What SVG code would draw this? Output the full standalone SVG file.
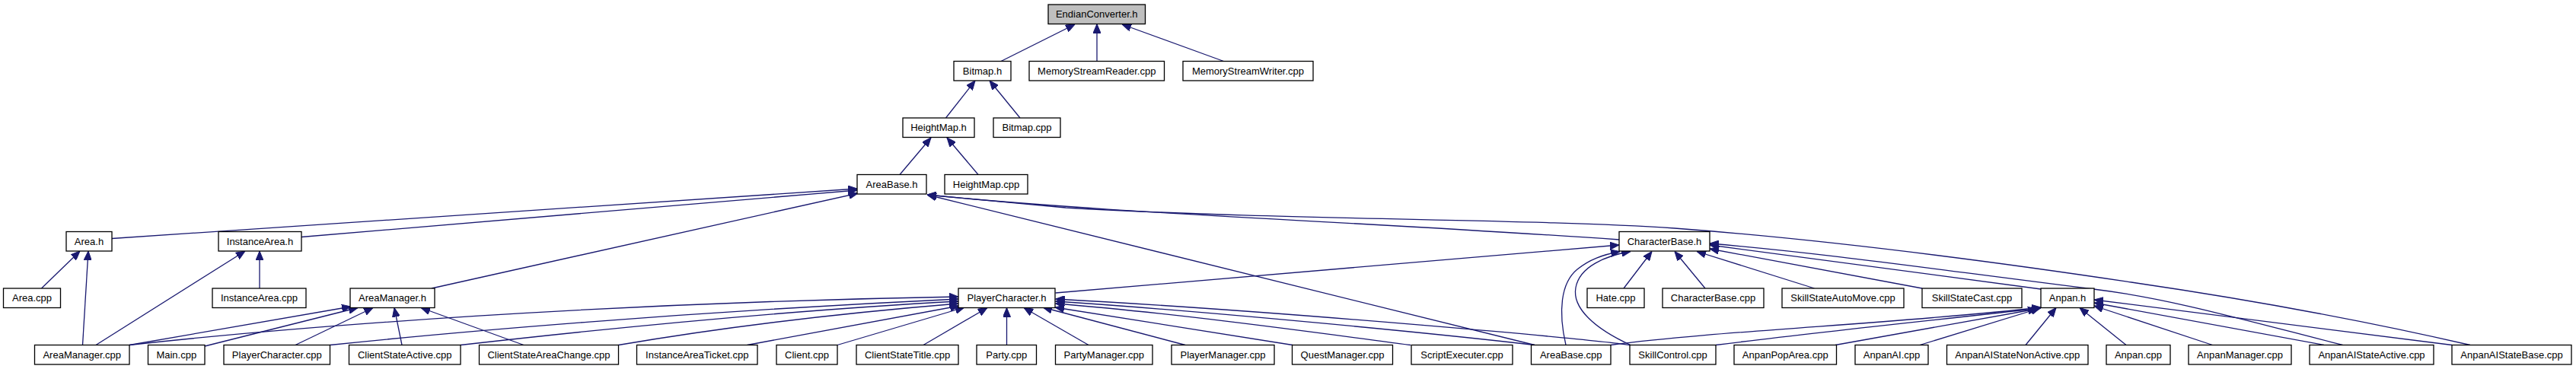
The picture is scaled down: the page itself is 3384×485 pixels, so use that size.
<svg xmlns="http://www.w3.org/2000/svg" width="3384" height="485" viewBox="0 0 3384 485">
<style>
.n rect{fill:#fff;stroke:#000;stroke-width:1.3}
.n.root rect{fill:#bfbfbf}
.n text{font-family:"Liberation Sans",Arial,Helvetica,sans-serif;font-size:13px;text-anchor:middle;fill:#000}
#edges path{fill:none;stroke:#191970;stroke-width:1.3;marker-end:url(#ah)}
</style>
<defs>
<marker id="ah" viewBox="0 0 12 10" refX="12" refY="5" markerWidth="12" markerHeight="10" markerUnits="userSpaceOnUse" orient="auto">
<path d="M0,0 L12,5 L0,10 z" fill="#191970" stroke="#191970" stroke-width="1"/>
</marker>
</defs>
<rect width="3384" height="485" fill="#fff"/>
<g id="edges">
<path d="M1315,80.5 L1412,32"/>
<path d="M1441,80.5 L1441,31.5"/>
<path d="M1607.5,80.5 L1474,32"/>
<path d="M1242.5,155 L1281,106"/>
<path d="M1340,155 L1300,106"/>
<path d="M1182,229.5 L1223,181"/>
<path d="M1285,229.5 L1244,181"/>
<path d="M147,313.5 L1126,248"/>
<path d="M396,311.5 L1126,250"/>
<path d="M567,379 L1127,254"/>
<path d="M2127,315 C1800,292 1450,280 1218,256"/>
<path d="M2016,453.5 L1218,256"/>
<path d="M3245,453.5 C3100,420 2950,393 2800,371 C2600,341 2400,315 2200,300 C2000,287 1700,290 1400,273 L1218,256"/>
<path d="M1386.5,385 L2127,322"/>
<path d="M2133,379 L2170,330.5"/>
<path d="M2240,379 L2200,330.5"/>
<path d="M2383.5,379 L2229,330.5"/>
<path d="M2525,379 L2246,327"/>
<path d="M2681,380 L2246,322"/>
<path d="M3077.5,453.5 C2950,421 2850,392 2750,380 C2550,355 2400,333 2246,320"/>
<path d="M2057,453.5 C2047,410 2050,372 2072,354 C2088,341 2105,335 2128,330.5"/>
<path d="M2142,453.5 C2095,432 2065,405 2070,378 C2075,350 2110,336 2142,330.5"/>
<path d="M170,453.5 L461,403"/>
<path d="M269,455 L470,404.5"/>
<path d="M388,453.5 L490,404.5"/>
<path d="M528,453.5 L518,404.5"/>
<path d="M688,453.5 L553,404.5"/>
<path d="M54.5,379 L105,330"/>
<path d="M108.5,453.5 L116,330"/>
<path d="M126,453.5 L322,330"/>
<path d="M341,379 L341,330"/>
<path d="M170,453.5 C400,428 800,398 1259,390"/>
<path d="M433.5,453.5 C600,436 900,410 1259,393"/>
<path d="M605,453.5 C750,437 1000,410 1259,396"/>
<path d="M812.5,453.5 C950,430 1100,412 1259,399"/>
<path d="M981.5,453.5 L1260,402"/>
<path d="M1100,453.5 L1267,404"/>
<path d="M1213,453.5 L1297,404.5"/>
<path d="M1322.5,453.5 L1322.5,404.5"/>
<path d="M1430,453.5 L1345,404.5"/>
<path d="M1557,453.5 L1370,404"/>
<path d="M1698,453.5 L1386,404"/>
<path d="M1853,453.5 C1750,440 1550,412 1386.5,399"/>
<path d="M2016,453.5 C1900,440 1600,410 1386.5,396"/>
<path d="M2141,453.5 C2100,447 1700,410 1386.5,393"/>
<path d="M2116,453.5 C2250,435 2500,425 2681,404"/>
<path d="M2254,453.5 C2400,435 2550,420 2681,405"/>
<path d="M2411,453.5 L2676,406"/>
<path d="M2522,453.5 L2680,405"/>
<path d="M2661,453.5 L2701,404.5"/>
<path d="M2793,453.5 L2732,404.5"/>
<path d="M2906.5,453.5 L2751,402"/>
<path d="M3053,453.5 L2751,398"/>
<path d="M3221,453.5 L2751,394"/>
</g>
<g id="n_EndianConverter_h" class="n root"><rect x="1377" y="6" width="127.5" height="25.5"/><text x="1440.75" y="23.3">EndianConverter.h</text></g>
<g id="n_Bitmap_h" class="n"><rect x="1253" y="80.5" width="75" height="25.5"/><text x="1290.5" y="97.8">Bitmap.h</text></g>
<g id="n_MemoryStreamReader_cpp" class="n"><rect x="1352" y="80.5" width="177.5" height="25.5"/><text x="1440.75" y="97.8">MemoryStreamReader.cpp</text></g>
<g id="n_MemoryStreamWriter_cpp" class="n"><rect x="1554" y="80.5" width="171" height="25.5"/><text x="1639.5" y="97.8">MemoryStreamWriter.cpp</text></g>
<g id="n_HeightMap_h" class="n"><rect x="1186" y="155" width="94" height="25.5"/><text x="1233" y="172.3">HeightMap.h</text></g>
<g id="n_Bitmap_cpp" class="n"><rect x="1305" y="155" width="88" height="25.5"/><text x="1349" y="172.3">Bitmap.cpp</text></g>
<g id="n_AreaBase_h" class="n"><rect x="1126" y="229.5" width="91" height="25.5"/><text x="1171.5" y="246.8">AreaBase.h</text></g>
<g id="n_HeightMap_cpp" class="n"><rect x="1241" y="229.5" width="109" height="25.5"/><text x="1295.5" y="246.8">HeightMap.cpp</text></g>
<g id="n_Area_h" class="n"><rect x="87" y="304.5" width="60" height="25.5"/><text x="117" y="321.8">Area.h</text></g>
<g id="n_InstanceArea_h" class="n"><rect x="287" y="304.5" width="109" height="25.5"/><text x="341.5" y="321.8">InstanceArea.h</text></g>
<g id="n_CharacterBase_h" class="n"><rect x="2127" y="304.5" width="119" height="25.5"/><text x="2186.5" y="321.8">CharacterBase.h</text></g>
<g id="n_Area_cpp" class="n"><rect x="4.5" y="379" width="75" height="25.5"/><text x="42" y="396.3">Area.cpp</text></g>
<g id="n_InstanceArea_cpp" class="n"><rect x="279" y="379" width="123" height="25.5"/><text x="340.5" y="396.3">InstanceArea.cpp</text></g>
<g id="n_AreaManager_h" class="n"><rect x="460" y="379" width="111" height="25.5"/><text x="515.5" y="396.3">AreaManager.h</text></g>
<g id="n_PlayerCharacter_h" class="n"><rect x="1259" y="379" width="127" height="25.5"/><text x="1322.5" y="396.3">PlayerCharacter.h</text></g>
<g id="n_Hate_cpp" class="n"><rect x="2085" y="379" width="75" height="25.5"/><text x="2122.5" y="396.3">Hate.cpp</text></g>
<g id="n_CharacterBase_cpp" class="n"><rect x="2184" y="379" width="133" height="25.5"/><text x="2250.5" y="396.3">CharacterBase.cpp</text></g>
<g id="n_SkillStateAutoMove_cpp" class="n"><rect x="2341" y="379" width="160" height="25.5"/><text x="2421" y="396.3">SkillStateAutoMove.cpp</text></g>
<g id="n_SkillStateCast_cpp" class="n"><rect x="2525" y="379" width="131" height="25.5"/><text x="2590.5" y="396.3">SkillStateCast.cpp</text></g>
<g id="n_Anpan_h" class="n"><rect x="2681" y="379" width="70" height="25.5"/><text x="2716" y="396.3">Anpan.h</text></g>
<g id="n_AreaManager_cpp" class="n"><rect x="45.5" y="453.5" width="124.5" height="25.5"/><text x="107.75" y="470.8">AreaManager.cpp</text></g>
<g id="n_Main_cpp" class="n"><rect x="194.5" y="453.5" width="74.5" height="25.5"/><text x="231.75" y="470.8">Main.cpp</text></g>
<g id="n_PlayerCharacter_cpp" class="n"><rect x="294" y="453.5" width="139.5" height="25.5"/><text x="363.75" y="470.8">PlayerCharacter.cpp</text></g>
<g id="n_ClientStateActive_cpp" class="n"><rect x="458.5" y="453.5" width="146.5" height="25.5"/><text x="531.75" y="470.8">ClientStateActive.cpp</text></g>
<g id="n_ClientStateAreaChange_cpp" class="n"><rect x="629.5" y="453.5" width="183" height="25.5"/><text x="721" y="470.8">ClientStateAreaChange.cpp</text></g>
<g id="n_InstanceAreaTicket_cpp" class="n"><rect x="836.5" y="453.5" width="158.5" height="25.5"/><text x="915.75" y="470.8">InstanceAreaTicket.cpp</text></g>
<g id="n_Client_cpp" class="n"><rect x="1020" y="453.5" width="80" height="25.5"/><text x="1060" y="470.8">Client.cpp</text></g>
<g id="n_ClientStateTitle_cpp" class="n"><rect x="1125" y="453.5" width="134" height="25.5"/><text x="1192" y="470.8">ClientStateTitle.cpp</text></g>
<g id="n_Party_cpp" class="n"><rect x="1283" y="453.5" width="78.5" height="25.5"/><text x="1322.25" y="470.8">Party.cpp</text></g>
<g id="n_PartyManager_cpp" class="n"><rect x="1386.5" y="453.5" width="127.5" height="25.5"/><text x="1450.25" y="470.8">PartyManager.cpp</text></g>
<g id="n_PlayerManager_cpp" class="n"><rect x="1539" y="453.5" width="135" height="25.5"/><text x="1606.5" y="470.8">PlayerManager.cpp</text></g>
<g id="n_QuestManager_cpp" class="n"><rect x="1697.5" y="453.5" width="132" height="25.5"/><text x="1763.5" y="470.8">QuestManager.cpp</text></g>
<g id="n_ScriptExecuter_cpp" class="n"><rect x="1854" y="453.5" width="133" height="25.5"/><text x="1920.5" y="470.8">ScriptExecuter.cpp</text></g>
<g id="n_AreaBase_cpp" class="n"><rect x="2011.5" y="453.5" width="104.5" height="25.5"/><text x="2063.75" y="470.8">AreaBase.cpp</text></g>
<g id="n_SkillControl_cpp" class="n"><rect x="2141" y="453.5" width="113" height="25.5"/><text x="2197.5" y="470.8">SkillControl.cpp</text></g>
<g id="n_AnpanPopArea_cpp" class="n"><rect x="2278" y="453.5" width="134.5" height="25.5"/><text x="2345.25" y="470.8">AnpanPopArea.cpp</text></g>
<g id="n_AnpanAI_cpp" class="n"><rect x="2437" y="453.5" width="96" height="25.5"/><text x="2485" y="470.8">AnpanAI.cpp</text></g>
<g id="n_AnpanAIStateNonActive_cpp" class="n"><rect x="2557.5" y="453.5" width="185.5" height="25.5"/><text x="2650.25" y="470.8">AnpanAIStateNonActive.cpp</text></g>
<g id="n_Anpan_cpp" class="n"><rect x="2767" y="453.5" width="84" height="25.5"/><text x="2809" y="470.8">Anpan.cpp</text></g>
<g id="n_AnpanManager_cpp" class="n"><rect x="2875" y="453.5" width="135" height="25.5"/><text x="2942.5" y="470.8">AnpanManager.cpp</text></g>
<g id="n_AnpanAIStateActive_cpp" class="n"><rect x="3034" y="453.5" width="163" height="25.5"/><text x="3115.5" y="470.8">AnpanAIStateActive.cpp</text></g>
<g id="n_AnpanAIStateBase_cpp" class="n"><rect x="3221" y="453.5" width="157" height="25.5"/><text x="3299.5" y="470.8">AnpanAIStateBase.cpp</text></g>
</svg>
